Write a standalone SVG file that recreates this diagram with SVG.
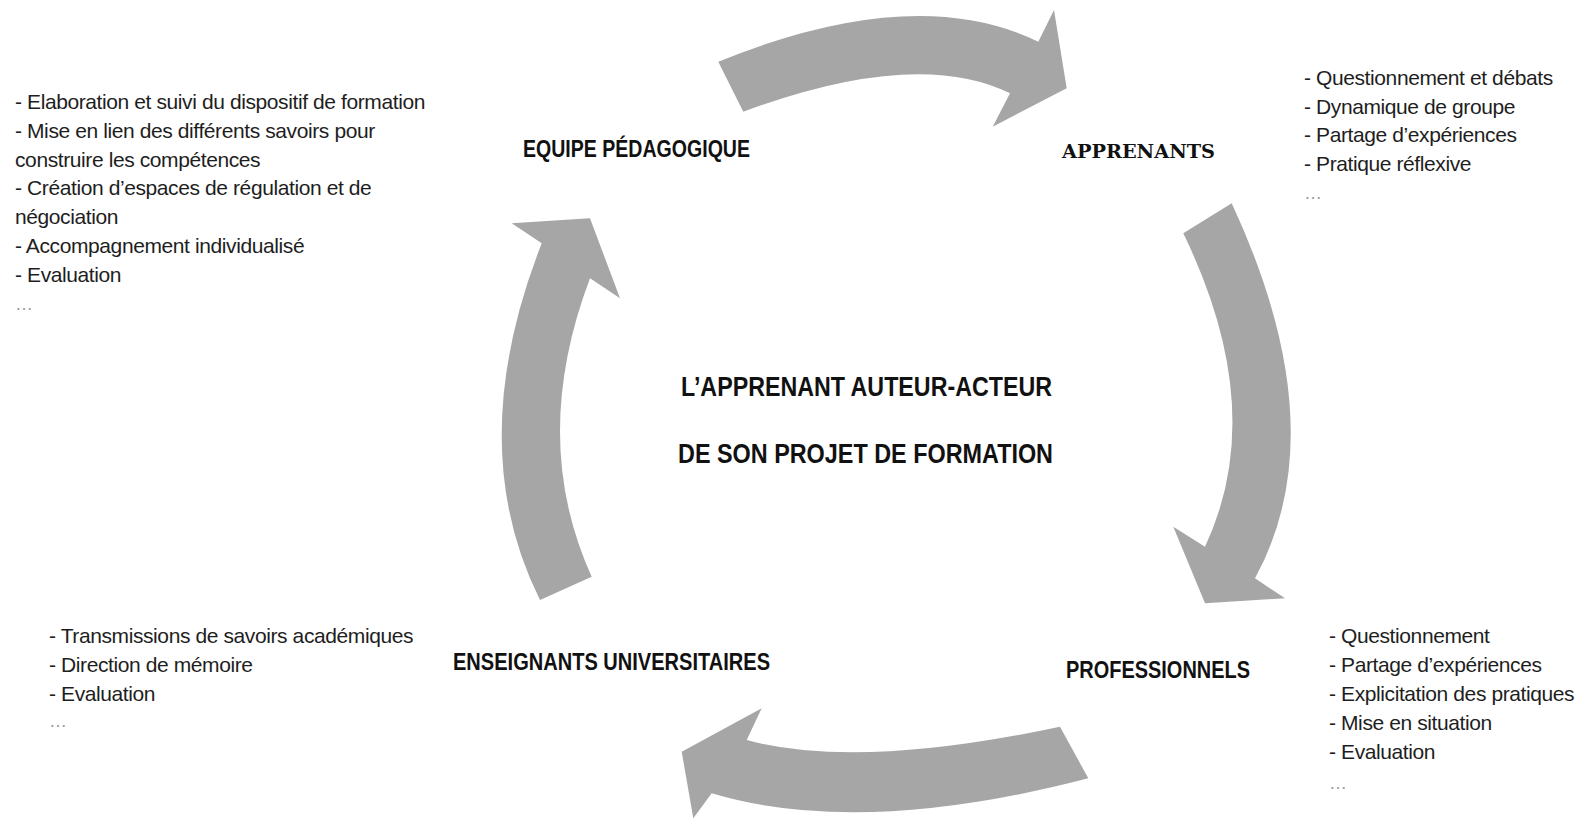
<svg xmlns="http://www.w3.org/2000/svg" width="1582" height="819" viewBox="0 0 1582 819">
<style>
.arrow{fill:#a6a6a6;stroke:none}
.body{font-family:"Liberation Sans",Arial,sans-serif;font-size:21px;letter-spacing:-0.4px;fill:#1e1e1e}
.dots{font-family:"Liberation Sans",Arial,sans-serif;font-size:18px;fill:#9a9a9a}
.head{font-family:"Liberation Sans",Arial,sans-serif;font-weight:bold;font-size:23px;fill:#111}
.slab{font-family:"DejaVu Serif",serif;font-weight:bold;font-size:19px;fill:#111}
.center{font-family:"Liberation Sans",Arial,sans-serif;font-weight:bold;font-size:27px;fill:#111}
</style>
<rect width="1582" height="819" fill="#ffffff"/>
<g id="connectors">
<path class="arrow" d="M 718.3,61.7 Q 915,-18.3 1038.3,41.7 L 1054,10 L 1066.7,88.3 L 992.7,126.7 L 1010,93.3 Q 916.7,47.5 743.3,111.7 Z"/>
<path class="arrow" d="M 1231.7,203.3 Q 1336.7,429.2 1255,578.3 L 1285,598.3 L 1205,603.3 L 1173.3,526.7 L 1205,546.7 Q 1269.2,410 1183.3,233.3 Z"/>
<path class="arrow" d="M 1060,726.7 Q 856.65,770 746.7,740 L 761.7,708.3 L 681.7,751.7 L 693.3,818.3 L 711.7,793.3 Q 860,837.6 1088.3,778.3 Z"/>
<path class="arrow" d="M 540,600 Q 462.55,444.95 541.7,243.3 L 511.7,223.3 L 590,218.3 L 620,298.3 L 590,278.3 Q 529.15,439.1 591.7,576.7 Z"/>
</g>
<g id="center">
<text class="center" x="681" y="396" textLength="371" lengthAdjust="spacingAndGlyphs">L’APPRENANT AUTEUR-ACTEUR</text>
<text class="center" x="678" y="463" textLength="375" lengthAdjust="spacingAndGlyphs">DE SON PROJET DE FORMATION</text>
</g>
<g id="equipe">
<text class="head" x="523" y="157" textLength="227" lengthAdjust="spacingAndGlyphs">EQUIPE PÉDAGOGIQUE</text>
<text class="body" x="15" y="109">- Elaboration et suivi du dispositif de formation</text>
<text class="body" x="15" y="137.5">- Mise en lien des différents savoirs  pour</text>
<text class="body" x="15" y="166.5">construire les compétences</text>
<text class="body" x="15" y="195">- Création d’espaces de régulation et de</text>
<text class="body" x="15" y="224">négociation</text>
<text class="body" x="15" y="253">- Accompagnement individualisé</text>
<text class="body" x="15" y="282">- Evaluation</text>
<text class="dots" x="15" y="310">…</text>
</g>
<g id="apprenants">
<text class="slab" x="1062" y="158" textLength="153" lengthAdjust="spacingAndGlyphs">APPRENANTS</text>
<text class="body" x="1304" y="85">- Questionnement et débats</text>
<text class="body" x="1304" y="113.5">- Dynamique de groupe</text>
<text class="body" x="1304" y="142">- Partage d’expériences</text>
<text class="body" x="1304" y="170.5">- Pratique réflexive</text>
<text class="dots" x="1304" y="199">…</text>
</g>
<g id="professionnels">
<text class="head" x="1066" y="678" textLength="184" lengthAdjust="spacingAndGlyphs">PROFESSIONNELS</text>
<text class="body" x="1329" y="643">- Questionnement</text>
<text class="body" x="1329" y="671.5">- Partage d’expériences</text>
<text class="body" x="1329" y="700.5">- Explicitation des pratiques</text>
<text class="body" x="1329" y="729.5">- Mise en situation</text>
<text class="body" x="1329" y="758.5">- Evaluation</text>
<text class="dots" x="1329" y="789">…</text>
</g>
<g id="enseignants">
<text class="head" x="453" y="670" textLength="317" lengthAdjust="spacingAndGlyphs">ENSEIGNANTS UNIVERSITAIRES</text>
<text class="body" x="49" y="643">- Transmissions de savoirs académiques</text>
<text class="body" x="49" y="672">- Direction de mémoire</text>
<text class="body" x="49" y="700.5">- Evaluation</text>
<text class="dots" x="49" y="727">…</text>
</g>
</svg>
